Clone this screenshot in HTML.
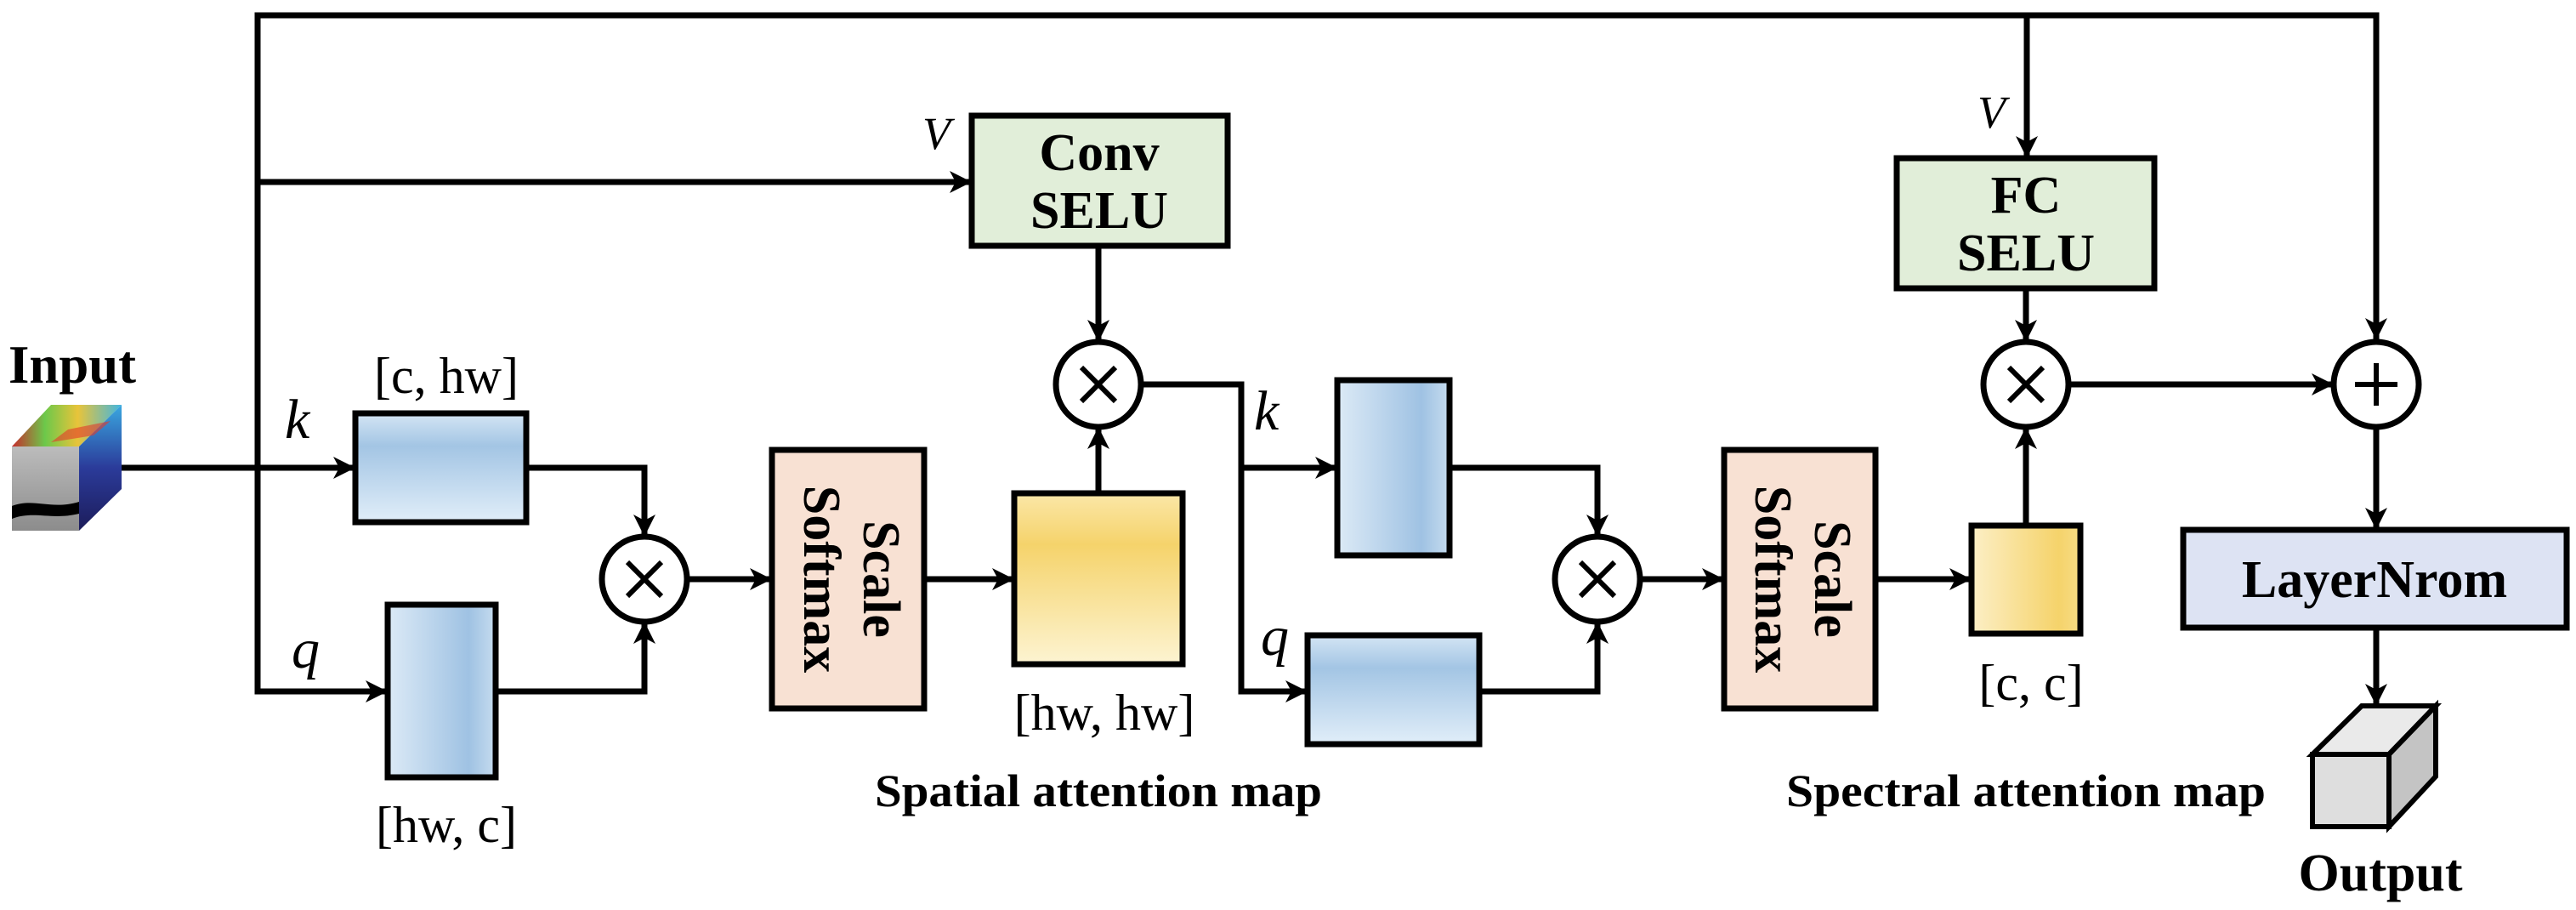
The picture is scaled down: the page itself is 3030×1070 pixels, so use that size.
<!DOCTYPE html>
<html><head><meta charset="utf-8"><style>
html,body{margin:0;padding:0;background:#fff;}
svg{display:block;}
svg text{font-family:"Liberation Serif","Times New Roman",serif;fill:#000;}
.b{font-weight:bold;}
</style></head><body>
<svg width="3030" height="1070" viewBox="0 0 3030 1070" xmlns="http://www.w3.org/2000/svg" font-family="'Liberation Serif', serif">
<defs>
<marker id="a" markerWidth="30" markerHeight="30" refX="26" refY="13" orient="auto" markerUnits="userSpaceOnUse">
<path d="M0,0 L26,13 L0,26 L7,13 Z" fill="#000"/>
</marker>
<linearGradient id="kv" x1="0" y1="0" x2="0" y2="1">
<stop offset="0" stop-color="#d4e5f4"/><stop offset="0.3" stop-color="#a3c5e4"/><stop offset="1" stop-color="#e1eef9"/></linearGradient>
<linearGradient id="qh" x1="0" y1="0" x2="1" y2="0">
<stop offset="0" stop-color="#dceaf6"/><stop offset="0.75" stop-color="#9fc2e3"/><stop offset="1" stop-color="#c6dcef"/></linearGradient>
<linearGradient id="yv" x1="0" y1="0" x2="0" y2="1">
<stop offset="0" stop-color="#fbe7a8"/><stop offset="0.3" stop-color="#f5d36b"/><stop offset="1" stop-color="#fdf4d2"/></linearGradient>
<linearGradient id="yh" x1="0" y1="0" x2="1" y2="0">
<stop offset="0" stop-color="#fcefc6"/><stop offset="0.8" stop-color="#f5d36b"/><stop offset="1" stop-color="#f7dc85"/></linearGradient>
<linearGradient id="grey" x1="0" y1="0" x2="0" y2="1"><stop offset="0" stop-color="#bcbcbc"/><stop offset="1" stop-color="#8c8c8c"/></linearGradient>
<linearGradient id="heat" x1="0" y1="0" x2="1" y2="0"><stop offset="0" stop-color="#c62c2c"/><stop offset="0.3" stop-color="#6cc84a"/><stop offset="0.6" stop-color="#e8c43a"/><stop offset="1" stop-color="#42b6e0"/></linearGradient>
<linearGradient id="side" x1="0" y1="0" x2="0" y2="1"><stop offset="0" stop-color="#3aa8e0"/><stop offset="0.5" stop-color="#2b3b9a"/><stop offset="1" stop-color="#1c1c5a"/></linearGradient>
</defs>
<g stroke="#000" stroke-width="7" fill="none">
<polyline points="303,813 303,18 2795,18 2795,400" marker-end="url(#a)"/>
<line x1="303" y1="214" x2="1143" y2="214" marker-end="url(#a)"/>
<line x1="2384" y1="18" x2="2384" y2="186" marker-end="url(#a)"/>
<line x1="143" y1="550" x2="418" y2="550" marker-end="url(#a)"/>
<polyline points="303,550 303,813 456,813" marker-end="url(#a)"/>
<polyline points="619,550 758,550 758,631" marker-end="url(#a)"/>
<polyline points="583,813 758,813 758,731" marker-end="url(#a)"/>
<line x1="808" y1="681" x2="908" y2="681" marker-end="url(#a)"/>
<line x1="1087" y1="681" x2="1193" y2="681" marker-end="url(#a)"/>
<line x1="1292" y1="580" x2="1292" y2="502" marker-end="url(#a)"/>
<line x1="1292" y1="289" x2="1292" y2="402" marker-end="url(#a)"/>
<polyline points="1342,452 1460,452 1460,813 1538,813" marker-end="url(#a)"/>
<line x1="1460" y1="550" x2="1573" y2="550" marker-end="url(#a)"/>
<polyline points="1705,550 1879,550 1879,631" marker-end="url(#a)"/>
<polyline points="1740,813 1879,813 1879,731" marker-end="url(#a)"/>
<line x1="1929" y1="681" x2="2028" y2="681" marker-end="url(#a)"/>
<line x1="2206" y1="681" x2="2319" y2="681" marker-end="url(#a)"/>
<line x1="2383" y1="618" x2="2383" y2="502" marker-end="url(#a)"/>
<line x1="2383" y1="339" x2="2383" y2="402" marker-end="url(#a)"/>
<line x1="2433" y1="452" x2="2745" y2="452" marker-end="url(#a)"/>
<line x1="2795" y1="502" x2="2795" y2="623" marker-end="url(#a)"/>
<line x1="2795" y1="738" x2="2795" y2="830" marker-end="url(#a)"/>
</g>
<g stroke="#000" stroke-width="7">
<rect x="1143" y="136" width="301" height="153" fill="#e1eed9"/>
<rect x="2231" y="186" width="303" height="153" fill="#e1eed9"/>
<rect x="418" y="486" width="201" height="128" fill="url(#kv)"/>
<rect x="456" y="711" width="127" height="203" fill="url(#qh)"/>
<rect x="908" y="529" width="179" height="304" fill="#f8e1d3"/>
<rect x="1193" y="580" width="198" height="201" fill="url(#yv)"/>
<rect x="1573" y="447" width="132" height="206" fill="url(#qh)"/>
<rect x="1538" y="747" width="202" height="128" fill="url(#kv)"/>
<rect x="2028" y="529" width="178" height="304" fill="#f8e1d3"/>
<rect x="2319" y="618" width="128" height="127" fill="url(#yh)"/>
<rect x="2568" y="623" width="451" height="115" fill="#dde3f3"/>
<circle cx="758" cy="681" r="50" fill="#fff"/>
<circle cx="1292" cy="452" r="50" fill="#fff"/>
<circle cx="1879" cy="681" r="50" fill="#fff"/>
<circle cx="2383" cy="452" r="50" fill="#fff"/>
<circle cx="2795" cy="452" r="50" fill="#fff"/>
</g>
<g stroke="#000" stroke-width="6">
<path d="M738,661 L778,701 M778,661 L738,701"/>
<path d="M1272,432 L1312,472 M1312,432 L1272,472"/>
<path d="M1859,661 L1899,701 M1899,661 L1859,701"/>
<path d="M2363,432 L2403,472 M2403,432 L2363,472"/>
<path d="M2795,427 L2795,477 M2770,452 L2820,452"/>
</g>
<polygon points="14,525 60,476 143,476 93,525" fill="url(#heat)"/>
<polygon points="93,525 143,476 143,575 93,624" fill="url(#side)"/>
<rect x="14" y="525" width="79" height="99" fill="url(#grey)"/>
<path d="M14,595 C40,585 60,600 93,590 L93,604 C60,612 40,600 14,610 Z" fill="#000"/>
<polygon points="60,520 80,505 130,495 110,512" fill="#e23a2a" opacity="0.6"/>
<g stroke="#000" stroke-width="6">
<polygon points="2720,887 2778,830 2865,830 2810,887" fill="#eaeaea"/>
<polygon points="2810,887 2865,830 2865,913 2810,972" fill="#c4c4c4"/>
<rect x="2720" y="887" width="90" height="85" fill="#dedede"/>
</g>
<text x="10" y="450" font-size="64" class="b" textLength="150" lengthAdjust="spacingAndGlyphs">Input</text>
<text x="1293" y="200" font-size="62" class="b" text-anchor="middle">Conv</text>
<text x="1293" y="268" font-size="62" class="b" text-anchor="middle">SELU</text>
<text x="2383" y="250" font-size="62" class="b" text-anchor="middle">FC</text>
<text x="2383" y="318" font-size="62" class="b" text-anchor="middle">SELU</text>
<text x="2793" y="702" font-size="62" class="b" text-anchor="middle">LayerNrom</text>
<text x="2800" y="1047" font-size="62" class="b" text-anchor="middle">Output</text>
<text x="1029" y="948" font-size="54" class="b" textLength="526" lengthAdjust="spacingAndGlyphs">Spatial attention map</text>
<text x="2101" y="948" font-size="54" class="b" textLength="564" lengthAdjust="spacingAndGlyphs">Spectral attention map</text>
<text x="525" y="462" font-size="60" text-anchor="middle">[c, hw]</text>
<text x="525" y="990" font-size="60" text-anchor="middle">[hw, c]</text>
<text x="1299" y="858" font-size="60" text-anchor="middle">[hw, hw]</text>
<text x="2389" y="823" font-size="60" text-anchor="middle">[c, c]</text>
<text x="335" y="515" font-size="66" font-style="italic">k</text>
<text x="343" y="785" font-size="66" font-style="italic">q</text>
<text x="1475" y="505" font-size="66" font-style="italic">k</text>
<text x="1483" y="770" font-size="66" font-style="italic">q</text>
<text x="1085" y="175" font-size="54" font-style="italic">V</text>
<text x="2326" y="150" font-size="54" font-style="italic">V</text>
<g transform="translate(998,681) rotate(90)">
<text x="0" y="-18" font-size="62" class="b" text-anchor="middle">Scale</text>
<text x="0" y="52" font-size="62" class="b" text-anchor="middle">Softmax</text>
</g>
<g transform="translate(2117,681) rotate(90)">
<text x="0" y="-18" font-size="62" class="b" text-anchor="middle">Scale</text>
<text x="0" y="52" font-size="62" class="b" text-anchor="middle">Softmax</text>
</g>
</svg>
</body></html>
